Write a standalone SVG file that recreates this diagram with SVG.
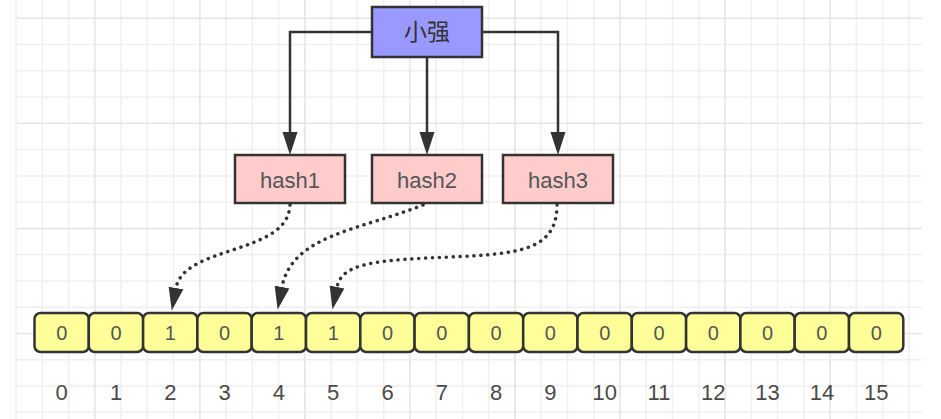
<svg xmlns="http://www.w3.org/2000/svg" width="941" height="419" viewBox="0 0 941 419">
<style>
.minor{stroke:#efefef;stroke-width:1.5;fill:none}
.major{stroke:#e4e4e4;stroke-width:1.5;fill:none}
.box{stroke:#333333;stroke-width:2.5}
.cell{fill:#ffff99;stroke:#333333;stroke-width:2.5}
.lbl{font-family:"Liberation Sans","Noto Sans CJK SC",sans-serif;font-size:20px;fill:#555555;text-anchor:middle}
.hl{font-family:"Liberation Sans","Noto Sans CJK SC",sans-serif;font-size:22px;fill:#555555;text-anchor:middle}
.idx{font-family:"Liberation Sans",sans-serif;font-size:22px;fill:#4a4a4a;text-anchor:middle}
.cn{font-family:"Noto Sans CJK SC","Liberation Sans",sans-serif;font-size:23px;fill:#333333;text-anchor:middle}
.solid{stroke:#333333;stroke-width:2.5;fill:none}
.dot{stroke:#333333;stroke-width:3.5;fill:none;stroke-linecap:round;stroke-dasharray:0.1 6.8}
</style>
<defs>
<marker id="arr" markerUnits="userSpaceOnUse" markerWidth="26" markerHeight="18" viewBox="0 -9 26 18" refX="0" refY="0" orient="auto">
<path d="M0,-7.5 L23,0 L0,7.5 Z" fill="#333333"/>
</marker>
</defs>
<rect width="941" height="419" fill="#ffffff"/>
<g id="grid">
<path class="minor" d="M16,0V419M42.3,0V419M68.6,0V419M121.1,0V419M147.3,0V419M173.6,0V419M226.1,0V419M252.4,0V419M278.6,0V419M331.2,0V419M357.4,0V419M383.7,0V419M436.2,0V419M462.5,0V419M488.7,0V419M541.2,0V419M567.5,0V419M593.8,0V419M646.3,0V419M672.5,0V419M698.8,0V419M751.3,0V419M777.6,0V419M803.8,0V419M856.4,0V419M882.6,0V419M908.9,0V419"/>
<path class="minor" d="M17,44.6H922M17,70.8H922M17,97.1H922M17,149.6H922M17,175.9H922M17,202.1H922M17,254.6H922M17,280.9H922M17,307.2H922M17,359.7H922M17,385.9H922M17,412.2H922"/>
<path class="major" d="M94.8,0V419M199.9,0V419M304.9,0V419M409.9,0V419M515,0V419M620,0V419M725.1,0V419M830.1,0V419"/>
<path class="major" d="M17,18.3H922M17,123.3H922M17,228.4H922M17,333.4H922"/>
</g>
<g id="connectors">
<path class="solid" d="M372,32H290V132" marker-end="url(#arr)"/>
<path class="solid" d="M427,57V132" marker-end="url(#arr)"/>
<path class="solid" d="M482,32H558V132" marker-end="url(#arr)"/>
<path class="dot" d="M290,205C288,255 184,245 176,288" marker-end="url(#arr)"/>
<path class="dot" d="M423,205C360,230 292,235 282,287" marker-end="url(#arr)"/>
<path class="dot" d="M557,205C557,250 520,254 450,257C380,260 342,262 337,287" marker-end="url(#arr)"/>
</g>
<g id="node-xiaoqiang">
<rect class="box" x="372" y="7" width="110" height="50" fill="#9999ff"/>
<text class="cn" x="427" y="40">小强</text>
</g>
<g id="node-hash1">
<rect class="box" x="235" y="155" width="110" height="48" fill="#ffcccc"/>
<text class="hl" x="290" y="188">hash1</text>
</g>
<g id="node-hash2">
<rect class="box" x="372" y="155" width="110" height="48" fill="#ffcccc"/>
<text class="hl" x="427" y="188">hash2</text>
</g>
<g id="node-hash3">
<rect class="box" x="503" y="155" width="110" height="48" fill="#ffcccc"/>
<text class="hl" x="558" y="188">hash3</text>
</g>
<g id="bit-array">
<rect class="cell" x="34.5" y="313" width="54.3" height="39" rx="6"/>
<rect class="cell" x="88.8" y="313" width="54.3" height="39" rx="6"/>
<rect class="cell" x="143.1" y="313" width="54.3" height="39" rx="6"/>
<rect class="cell" x="197.4" y="313" width="54.3" height="39" rx="6"/>
<rect class="cell" x="251.7" y="313" width="54.3" height="39" rx="6"/>
<rect class="cell" x="306" y="313" width="54.3" height="39" rx="6"/>
<rect class="cell" x="360.3" y="313" width="54.3" height="39" rx="6"/>
<rect class="cell" x="414.6" y="313" width="54.3" height="39" rx="6"/>
<rect class="cell" x="468.9" y="313" width="54.3" height="39" rx="6"/>
<rect class="cell" x="523.2" y="313" width="54.3" height="39" rx="6"/>
<rect class="cell" x="577.5" y="313" width="54.3" height="39" rx="6"/>
<rect class="cell" x="631.8" y="313" width="54.3" height="39" rx="6"/>
<rect class="cell" x="686.1" y="313" width="54.3" height="39" rx="6"/>
<rect class="cell" x="740.4" y="313" width="54.3" height="39" rx="6"/>
<rect class="cell" x="794.7" y="313" width="54.3" height="39" rx="6"/>
<rect class="cell" x="849" y="313" width="54.3" height="39" rx="6"/>
<text class="lbl" x="61.7" y="340">0</text>
<text class="lbl" x="116" y="340">0</text>
<text class="lbl" x="170.3" y="340">1</text>
<text class="lbl" x="224.6" y="340">0</text>
<text class="lbl" x="278.9" y="340">1</text>
<text class="lbl" x="333.2" y="340">1</text>
<text class="lbl" x="387.5" y="340">0</text>
<text class="lbl" x="441.8" y="340">0</text>
<text class="lbl" x="496.1" y="340">0</text>
<text class="lbl" x="550.4" y="340">0</text>
<text class="lbl" x="604.7" y="340">0</text>
<text class="lbl" x="659" y="340">0</text>
<text class="lbl" x="713.3" y="340">0</text>
<text class="lbl" x="767.6" y="340">0</text>
<text class="lbl" x="821.9" y="340">0</text>
<text class="lbl" x="876.2" y="340">0</text>
</g>
<g id="indices">
<text class="idx" x="61.7" y="400">0</text>
<text class="idx" x="116" y="400">1</text>
<text class="idx" x="170.3" y="400">2</text>
<text class="idx" x="224.6" y="400">3</text>
<text class="idx" x="278.9" y="400">4</text>
<text class="idx" x="333.2" y="400">5</text>
<text class="idx" x="387.5" y="400">6</text>
<text class="idx" x="441.8" y="400">7</text>
<text class="idx" x="496.1" y="400">8</text>
<text class="idx" x="550.4" y="400">9</text>
<text class="idx" x="604.7" y="400">10</text>
<text class="idx" x="659" y="400">11</text>
<text class="idx" x="713.3" y="400">12</text>
<text class="idx" x="767.6" y="400">13</text>
<text class="idx" x="821.9" y="400">14</text>
<text class="idx" x="876.2" y="400">15</text>
</g>
</svg>
